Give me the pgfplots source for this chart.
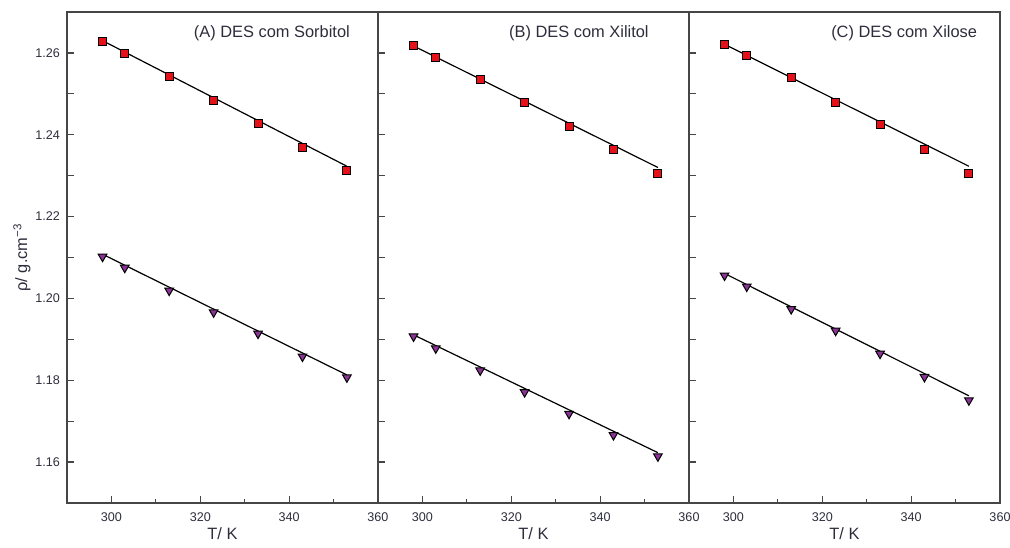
\documentclass[border=0pt]{standalone}
\usepackage{fontspec}
\setmainfont{Liberation Sans}
\usepackage{pgfplots}
\pgfplotsset{compat=1.18}
\definecolor{sqred}{RGB}{228,18,24}
\definecolor{tripurple}{RGB}{138,52,150}
\definecolor{axgray}{RGB}{70,70,70}
\definecolor{txt}{RGB}{45,45,60}
\tikzset{ttl/.style={font=\fontsize{8.2}{9}\selectfont, text=txt, anchor=east}}
\pgfplotsset{
 panel/.style={
  scale only axis, width=155.5pt, height=245.5pt,
  xmin=290, xmax=360, ymin=1.15, ymax=1.27,
  xtick={300,320,340,360}, minor xtick={310,330,350},
  ytick={1.16,1.18,1.20,1.22,1.24,1.26},
  extra y ticks={1.17,1.19,1.21,1.23,1.25},
  extra y tick labels={},
  tick align=inside, xtick pos=left, ytick pos=left,
  major tick length=3.5pt, minor tick length=2pt,
  axis line style={axgray, line width=0.75pt},
  tick style={axgray, line width=0.6pt},
  tick label style={font=\fontsize{6.3}{7}\selectfont, text=txt},
  /pgf/number format/assume math mode=true,
  yticklabel style={/pgf/number format/.cd, fixed, fixed zerofill, precision=2},
  xticklabel style={yshift=-1.5pt},
  xlabel={T/ K},
  xlabel style={font=\fontsize{8.2}{9}\selectfont, text=txt, at={(axis description cs:0.5,-0.062)}, anchor=center},
  ylabel style={font=\fontsize{8.2}{9}\selectfont, text=txt, at={(axis description cs:-0.145,0.5)}, anchor=center},
  clip=false,
 },
 sq/.style={only marks, mark=square*, mark size=2pt, mark options={fill=sqred, draw=black, line width=0.5pt}},
 tri/.style={only marks, mark=triangle*, mark size=2.5pt, mark options={rotate=180, fill=tripurple, draw=black, line width=0.5pt}},
 fit/.style={black, line width=0.6pt, no marks},
}
\begin{document}
\begin{tikzpicture}
% Panel A
\begin{axis}[panel, at={(0pt,0pt)}, anchor=south west, ylabel={ρ/ g.cm\textsuperscript{−3}}]
\addplot[fit] coordinates {(298,1.2630) (353,1.2323)};
\addplot[sq] coordinates {(298,1.2627) (303,1.2598) (313,1.2542) (323,1.2483) (333,1.2427) (343,1.2369) (353,1.2313)};
\addplot[fit] coordinates {(298,1.2108) (353,1.1813)};
\addplot[tri] coordinates {(298,1.2102) (303,1.2075) (313,1.2019) (323,1.1966) (333,1.1914) (343,1.1858) (353,1.1807)};
\node[ttl] at (rel axis cs:0.932,0.957) {(A) DES com Sorbitol};
\end{axis}
% Panel B
\begin{axis}[panel, at={(155.5pt,0pt)}, anchor=south west, yticklabels={}]
\addplot[fit] coordinates {(298,1.2617) (353,1.2320)};
\addplot[sq] coordinates {(298,1.2617) (303,1.2590) (313,1.2535) (323,1.2480) (333,1.2421) (343,1.2365) (353,1.2306)};
\addplot[fit] coordinates {(298,1.1911) (353,1.1623)};
\addplot[tri] coordinates {(298,1.1907) (303,1.1878) (313,1.1824) (323,1.1771) (333,1.1718) (343,1.1666) (353,1.1614)};
\node[ttl] at (rel axis cs:0.893,0.957) {(B) DES com Xilitol};
\end{axis}
% Panel C
\begin{axis}[panel, at={(311pt,0pt)}, anchor=south west, yticklabels={}]
\addplot[fit] coordinates {(298,1.2621) (353,1.2323)};
\addplot[sq] coordinates {(298,1.2621) (303,1.2594) (313,1.2539) (323,1.2480) (333,1.2424) (343,1.2365) (353,1.2306)};
\addplot[fit] coordinates {(298,1.2061) (353,1.1762)};
\addplot[tri] coordinates {(298,1.2056) (303,1.2029) (313,1.1974) (323,1.1921) (333,1.1865) (343,1.1808) (353,1.1751)};
\node[ttl] at (rel axis cs:0.949,0.957) {(C) DES com Xilose};
\end{axis}
\pgfresetboundingbox
\path (-33.5pt,-22pt) rectangle (471.5pt,251.5pt);
\end{tikzpicture}
\end{document}
